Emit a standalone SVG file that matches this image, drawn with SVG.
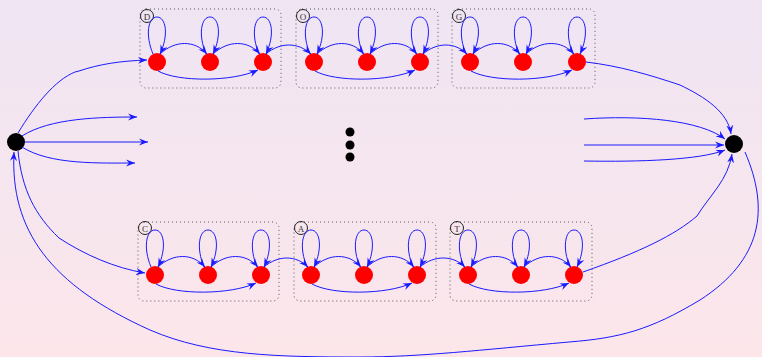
<svg xmlns="http://www.w3.org/2000/svg" width="762" height="357" viewBox="0 0 762 357">
<defs>
<linearGradient id="bg" x1="0" y1="0" x2="0" y2="1">
<stop offset="0" stop-color="#EFE5F3"/>
<stop offset="1" stop-color="#FCE6EA"/>
</linearGradient>
<marker id="a" markerWidth="10" markerHeight="8" refX="9" refY="4" orient="auto" markerUnits="userSpaceOnUse">
<path d="M0,0.5 L9,4 L0,7.5 L3,4 z" fill="#1a1aff"/>
</marker>
</defs>
<style>
.box{fill:none;stroke:#555;stroke-width:1;stroke-dasharray:1 3}
.lab circle{fill:none;stroke:#222;stroke-width:1}
.lab text{font-family:"Liberation Serif",serif;font-size:9px;fill:#333;text-anchor:middle}
.st{fill:#FF0000}
.bk{fill:#000}
#edges path{fill:none;stroke:#1a1aff;stroke-width:1;marker-end:url(#a)}
</style>
<rect width="762" height="357" fill="url(#bg)"/>

<g id="cluster-D"><rect class="box" x="140" y="9" width="141" height="79" rx="6"/><g class="lab"><circle cx="147" cy="16" r="6.5"/><text x="147" y="19.5">D</text></g></g>
<g id="cluster-O"><rect class="box" x="296" y="9" width="142" height="79" rx="6"/><g class="lab"><circle cx="303" cy="16" r="6.5"/><text x="303" y="19.5">O</text></g></g>
<g id="cluster-G"><rect class="box" x="452" y="9" width="143" height="79" rx="6"/><g class="lab"><circle cx="459" cy="16" r="6.5"/><text x="459" y="19.5">G</text></g></g>
<g id="cluster-C"><rect class="box" x="138" y="222" width="141" height="79" rx="6"/><g class="lab"><circle cx="145" cy="228" r="6.5"/><text x="145" y="231.5">C</text></g></g>
<g id="cluster-A"><rect class="box" x="294" y="222" width="142" height="79" rx="6"/><g class="lab"><circle cx="301" cy="228" r="6.5"/><text x="301" y="231.5">A</text></g></g>
<g id="cluster-T"><rect class="box" x="450" y="222" width="142" height="79" rx="6"/><g class="lab"><circle cx="457" cy="228" r="6.5"/><text x="457" y="231.5">T</text></g></g>

<g id="start"><circle class="bk" cx="16" cy="142" r="9"/></g>
<g id="end"><circle class="bk" cx="734" cy="144" r="9"/></g>
<g id="ellipsis"><circle class="bk" cx="350" cy="132" r="4.5"/><circle class="bk" cx="350" cy="145" r="4.5"/><circle class="bk" cx="350" cy="157" r="4.5"/></g>

<g id="D1"><circle class="st" cx="157" cy="62" r="9"/></g>
<g id="D2"><circle class="st" cx="210" cy="62" r="9"/></g>
<g id="D3"><circle class="st" cx="263" cy="62" r="9"/></g>
<g id="O1"><circle class="st" cx="314" cy="62" r="9"/></g>
<g id="O2"><circle class="st" cx="367" cy="62" r="9"/></g>
<g id="O3"><circle class="st" cx="420" cy="62" r="9"/></g>
<g id="G1"><circle class="st" cx="470" cy="62" r="9"/></g>
<g id="G2"><circle class="st" cx="523" cy="62" r="9"/></g>
<g id="G3"><circle class="st" cx="577" cy="62" r="9"/></g>
<g id="C1"><circle class="st" cx="155" cy="275" r="9"/></g>
<g id="C2"><circle class="st" cx="208" cy="275" r="9"/></g>
<g id="C3"><circle class="st" cx="261" cy="275" r="9"/></g>
<g id="A1"><circle class="st" cx="311" cy="275" r="9"/></g>
<g id="A2"><circle class="st" cx="364" cy="275" r="9"/></g>
<g id="A3"><circle class="st" cx="417" cy="275" r="9"/></g>
<g id="T1"><circle class="st" cx="468" cy="275" r="9"/></g>
<g id="T2"><circle class="st" cx="521" cy="275" r="9"/></g>
<g id="T3"><circle class="st" cx="574" cy="275" r="9"/></g>

<g id="edges">
<!-- top row loops -->
<path d="M153,54 C145,35 148,17 157,17 C166,17 169,35 160,54"/>
<path d="M206,54 C198,35 201,17 210,17 C219,17 222,35 213,54"/>
<path d="M259,54 C251,35 254,17 263,17 C272,17 275,35 266,54"/>
<path d="M310,54 C302,35 305,17 314,17 C323,17 326,35 317,54"/>
<path d="M363,54 C355,35 358,17 367,17 C376,17 379,35 370,54"/>
<path d="M416,54 C408,35 411,17 420,17 C429,17 432,35 423,54"/>
<path d="M466,54 C458,35 461,17 470,17 C479,17 482,35 473,54"/>
<path d="M519,54 C511,35 514,17 523,17 C532,17 535,35 526,54"/>
<path d="M573,54 C565,35 568,17 577,17 C586,17 589,35 580,54"/>
<!-- top row arcs -->
<path d="M160,54 C175,40 195,40 207,54"/>
<path d="M213,54 C228,40 248,40 260,54"/>
<path d="M158,71 C178,82 232,82 258,70"/>
<path d="M266,54 C280,42 298,42 311,54"/>
<path d="M317,54 C332,40 352,40 364,54"/>
<path d="M370,54 C385,40 405,40 417,54"/>
<path d="M315,71 C335,82 389,82 415,70"/>
<path d="M423,54 C437,42 455,42 467,54"/>
<path d="M473,54 C488,40 508,40 520,54"/>
<path d="M526,54 C541,40 562,40 574,54"/>
<path d="M471,71 C491,82 546,82 572,70"/>
<!-- bottom row loops -->
<path d="M151,267 C143,248 146,230 155,230 C164,230 167,248 158,267"/>
<path d="M204,267 C196,248 199,230 208,230 C217,230 220,248 211,267"/>
<path d="M257,267 C249,248 252,230 261,230 C270,230 273,248 264,267"/>
<path d="M307,267 C299,248 302,230 311,230 C320,230 323,248 314,267"/>
<path d="M360,267 C352,248 355,230 364,230 C373,230 376,248 367,267"/>
<path d="M413,267 C405,248 408,230 417,230 C426,230 429,248 420,267"/>
<path d="M464,267 C456,248 459,230 468,230 C477,230 480,248 471,267"/>
<path d="M517,267 C509,248 512,230 521,230 C530,230 533,248 524,267"/>
<path d="M570,267 C562,248 565,230 574,230 C583,230 586,248 577,267"/>
<!-- bottom row arcs -->
<path d="M158,267 C173,253 193,253 205,267"/>
<path d="M211,267 C226,253 246,253 258,267"/>
<path d="M156,284 C176,295 230,295 256,283"/>
<path d="M264,267 C278,255 296,255 308,267"/>
<path d="M314,267 C329,253 349,253 361,267"/>
<path d="M367,267 C382,253 402,253 414,267"/>
<path d="M312,284 C332,295 386,295 412,283"/>
<path d="M420,267 C434,255 453,255 465,267"/>
<path d="M471,267 C486,253 506,253 518,267"/>
<path d="M524,267 C539,253 559,253 571,267"/>
<path d="M469,284 C489,295 543,295 569,283"/>
<!-- start node -->
<path d="M18,133 C35,105 55,80 75,72 L79,71 C100,64 120,61 147,60"/>
<path d="M22,136 C50,118 100,117 137,117"/>
<path d="M25,142 L148,142"/>
<path d="M22,147 C50,165 100,163 135,163"/>
<path d="M18,151 C22,190 35,215 59,238 C85,255 115,268 145,273"/>
<!-- end node -->
<path d="M584,119 C640,115 700,120 725,139"/>
<path d="M584,145 L724,145"/>
<path d="M584,161 C640,162 700,160 725,150"/>
<path d="M586,62 C620,66 650,75 680,85 C705,97 728,112 731,134"/>
<path d="M583,272 C640,252 675,235 697,216 C710,195 728,180 732,154"/>
<!-- return loop -->
<path d="M745,152 C770,210 762,260 700,300 C650,330 620,338 569,342 C480,350 420,357 360,357 C280,357 210,356 150,330 C50,285 10,230 14,152"/>
</g>
</svg>
